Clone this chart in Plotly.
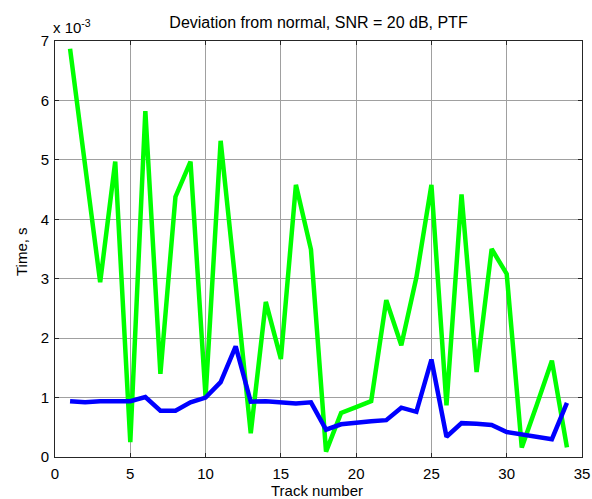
import plotly.graph_objects as go

track = list(range(1, 35))
# values in units of 1e-3 s
green = [6.87, 4.95, 2.94, 4.97, 0.25, 5.82, 1.40, 4.38, 4.97, 1.01,
         5.32, 2.90, 0.40, 2.61, 1.65, 4.58, 3.49, 0.09, 0.74, 0.84,
         0.94, 2.64, 1.88, 3.02, 4.58, 0.87, 4.42, 1.43, 3.50, 3.08,
         0.16, 0.88, 1.62, 0.16]
blue = [0.94, 0.92, 0.94, 0.94, 0.94, 1.01, 0.78, 0.78, 0.92, 1.00,
        1.26, 1.86, 0.93, 0.94, 0.92, 0.90, 0.92, 0.46, 0.55, 0.58,
        0.60, 0.62, 0.83, 0.76, 1.64, 0.34, 0.57, 0.56, 0.54, 0.42,
        0.38, 0.33, 0.30, 0.91]
x_ticks = [0, 5, 10, 15, 20, 25, 30, 35]
y_ticks = [0, 1, 2, 3, 4, 5, 6, 7]

font = "Liberation Sans, Arial, sans-serif"
fs = 15

fig = go.Figure()
fig.add_trace(go.Scatter(x=track, y=green, mode="lines",
                         line=dict(color="#00ff00", width=4.5), showlegend=False))
fig.add_trace(go.Scatter(x=track, y=blue, mode="lines",
                         line=dict(color="#0000ff", width=4.5), showlegend=False))

axis_common = dict(showline=True, mirror="ticks", linecolor="#262626", linewidth=1,
                   ticks="inside", ticklen=4, tickcolor="#262626",
                   showgrid=True, gridcolor="#a0a0a0", gridwidth=1,
                   zeroline=False, automargin=False,
                   tickfont=dict(family=font, size=fs, color="#000"))

fig.update_layout(
    width=592, height=499,
    margin=dict(l=55, r=10, t=41, b=42),
    paper_bgcolor="white", plot_bgcolor="white",
    title=dict(text="Deviation from normal, SNR = 20 dB, PTF",
               xref="paper", x=0.5, xanchor="center",
               yref="container", y=1 - 22.5 / 499, yanchor="middle",
               font=dict(family=font, size=fs + 1, color="#000")),
    xaxis=dict(range=[0, 35], tickvals=x_ticks, ticklabelstandoff=3, **axis_common),
    yaxis=dict(range=[0, 7], tickvals=y_ticks, ticklabelstandoff=2, **axis_common),
    annotations=[
        dict(text="x 10<sup>-3</sup>", xref="paper", yref="paper",
             x=0.0, y=1.0, xanchor="left", yanchor="bottom", xshift=-4, yshift=3,
             showarrow=False, font=dict(family=font, size=fs, color="#000")),
        dict(text="Time, s", xref="paper", yref="paper", x=0, y=0.5,
             xanchor="center", yanchor="middle", xshift=-34, yshift=-3,
             textangle=-90, showarrow=False,
             font=dict(family=font, size=fs, color="#000")),
        dict(text="Track number", xref="paper", yref="paper", x=0.5, y=0,
             xanchor="center", yanchor="middle", xshift=-2, yshift=-33,
             showarrow=False, font=dict(family=font, size=fs, color="#000")),
    ],
)

fig.write_html("out.html", config={"displayModeBar": False},
               post_script="document.body.style.margin='0';document.body.style.overflow='hidden';")
